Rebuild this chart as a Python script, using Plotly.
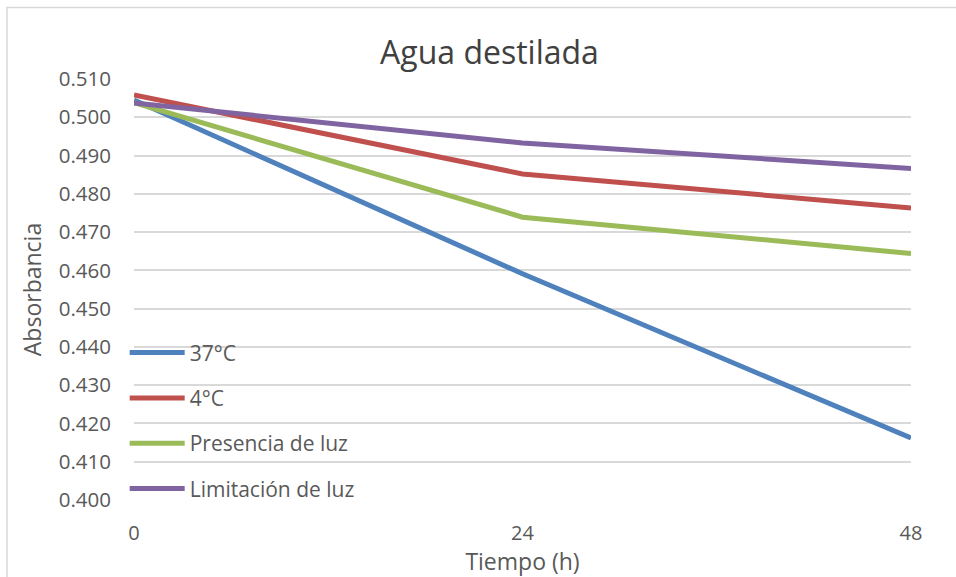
import plotly.graph_objects as go

tiempo = [0, 24, 48]
serie_37c = [0.5045, 0.4591, 0.4162]
serie_4c = [0.5058, 0.4852, 0.4763]
serie_luz = [0.5038, 0.4739, 0.4644]
serie_lim = [0.5037, 0.4933, 0.4866]

nombres = ["37°C", "4°C", "Presencia de luz", "Limitación de luz"]
colores = ["#4F81BD", "#C0504D", "#9BBB59", "#8064A2"]
series = [serie_37c, serie_4c, serie_luz, serie_lim]

y_ticks = [0.400, 0.410, 0.420, 0.430, 0.440, 0.450, 0.460, 0.470, 0.480, 0.490, 0.500, 0.510]

fig = go.Figure()
for i, (nombre, color, vals) in enumerate(zip(nombres, colores, series)):
    fig.add_trace(go.Scatter(
        x=tiempo, y=vals, mode="lines", name=nombre,
        line=dict(color=color, width=5),
        legendgroup=f"g{i}",
    ))

font_fam = "Open Sans, Liberation Sans, sans-serif"
fig.update_layout(
    width=956, height=577,
    margin=dict(l=134, r=45, t=79, b=77, autoexpand=False),
    paper_bgcolor="white", plot_bgcolor="white",
    title=dict(text="Agua destilada", x=0.512, xanchor="center", y=0.908, yanchor="middle",
               font=dict(family=font_fam, size=32, color="#404040")),
    font=dict(family=font_fam, color="#595959", size=20),
    xaxis=dict(range=[0, 48], tickvals=tiempo, ticktext=["0", "24", "48"],
               showgrid=False, zeroline=False, showline=False, ticks="", automargin=False,
               tickfont=dict(size=20, color="#595959"), ticklabelstandoff=19,
               title=dict(text="Tiempo (h)", font=dict(size=23, color="#595959"), standoff=11)),
    yaxis=dict(range=[0.400, 0.510], tickvals=y_ticks, tickformat=".3f", automargin=False,
               showgrid=True, gridcolor="#D9D9D9", gridwidth=1.5, zeroline=False,
               showline=False, ticks="", ticklabelstandoff=22,
               tickfont=dict(size=20.5, color="#595959"),
               title=dict(text="Absorbancia", font=dict(size=23, color="#595959"), standoff=10)),
    legend=dict(x=-0.012, y=0.398, xanchor="left", yanchor="top", bgcolor="rgba(0,0,0,0)",
                font=dict(size=21, color="#595959"), tracegroupgap=15, itemwidth=55),
    shapes=[dict(type="rect", xref="paper", yref="paper", x0=-0.1634, x1=1.2, y0=-0.3, y1=1.17,
                 line=dict(color="#D9D9D9", width=1.5))],
)

fig.write_html("out.html")
